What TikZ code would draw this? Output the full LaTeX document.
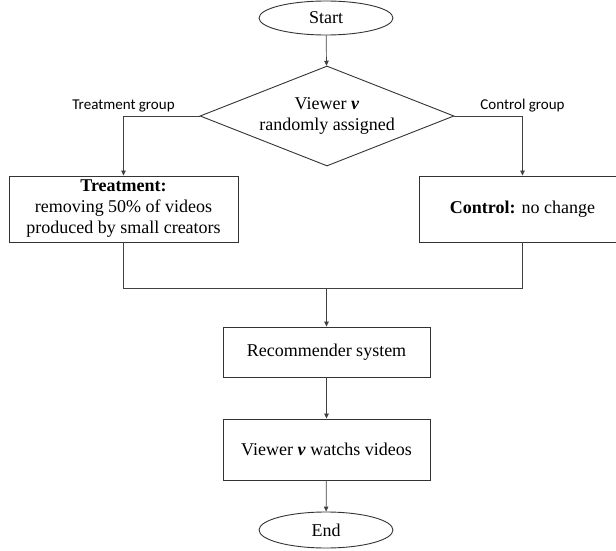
\documentclass[tikz,border=0pt]{standalone}
\usepackage{fontspec}
\setmainfont{Liberation Serif}
\newfontfamily\labelfont{Carlito}
\usetikzlibrary{shapes.geometric,arrows.meta}
\begin{document}
\begin{tikzpicture}[x=1pt,y=-1pt,
  every node/.style={font=\fontsize{18}{21}\selectfont},
  term/.style={ellipse,draw=black!80,line width=0.9pt,minimum width=134pt,minimum height=34pt,inner sep=0pt},
  decide/.style={diamond,draw=black!80,line width=0.9pt,aspect=2.54,minimum width=254pt,minimum height=100pt,inner sep=0pt,align=center},
  procbox/.style={rectangle,draw=black!80,line width=0.9pt,align=center,inner sep=0pt},
  conn/.style={draw=black!75,line width=0.7pt},
  arr/.style={conn,-{Triangle[length=5pt,width=4.5pt]}},
  grouplabel/.style={font=\labelfont\fontsize{15}{17}\selectfont,inner sep=0pt}
]
\useasboundingbox (0,0) rectangle (616,551);
\node[term] (start) at (326,18) {Start};
\node[decide] (dec) at (327,116) {Viewer \textbf{\textit{v}}\\randomly assigned};
\node[procbox,minimum width=229pt,minimum height=66pt] (treat) at (123.5,209)
  {\textbf{Treatment:}\\removing 50\% of videos\\produced by small creators};
\node[procbox,minimum width=207pt,minimum height=66pt] (ctrl) at (522.5,209)
  {\textbf{Control:} no change};
\node[procbox,minimum width=207pt,minimum height=50pt] (rec) at (326.5,352) {Recommender system};
\node[procbox,minimum width=207pt,minimum height=61pt] (view) at (326.5,449.5) {Viewer \textbf{\textit{v}} watchs videos};
\node[term,minimum height=36pt] (end) at (326,530) {End};
\node[grouplabel] (tl) at (123.5,106) {Treatment group};
\node[grouplabel] (cl) at (522.5,106) {Control group};
\coordinate (merge) at (326.5,288);
\path[arr] (start) -- (dec);
\path[arr] (dec.west) -| (treat.north);
\path[arr] (dec.east) -| (ctrl.north);
\path[conn] (treat.south) -- (treat.south |- merge) -- (ctrl.south |- merge) -- (ctrl.south);
\path[arr] (merge) -- (rec.north);
\path[arr] (rec) -- (view);
\path[arr] (view) -- (end);
\end{tikzpicture}
\end{document}
